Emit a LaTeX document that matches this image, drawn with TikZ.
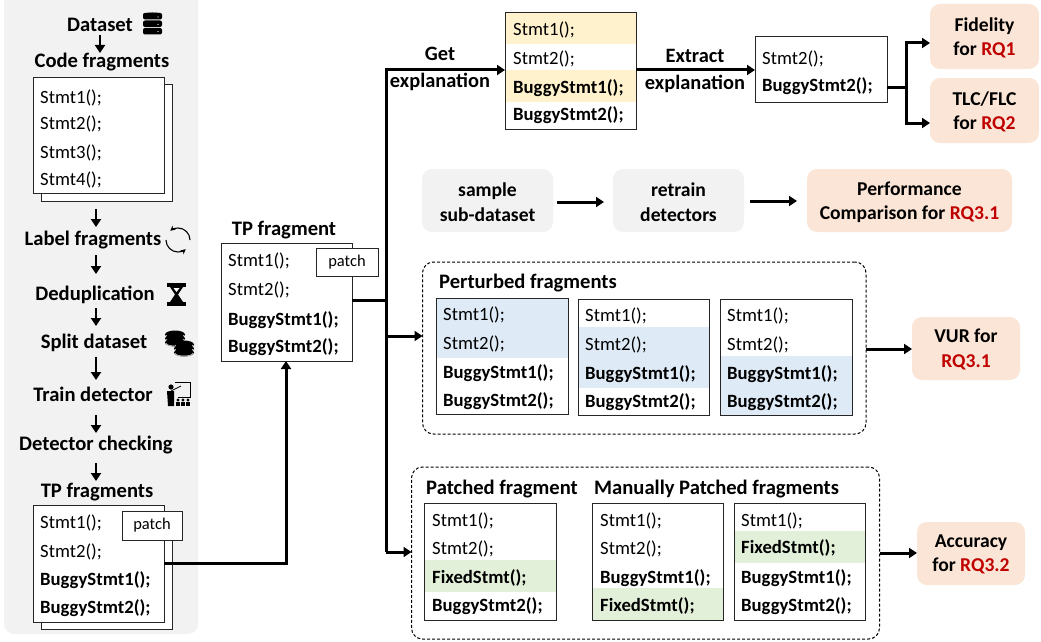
\documentclass[tikz,border=0pt]{standalone}
\usepackage{fontspec}
\setmainfont{Carlito}
\usetikzlibrary{arrows.meta}
\definecolor{panel}{HTML}{F2F2F2}
\definecolor{peach}{HTML}{FBE5D6}
\definecolor{hlyellow}{HTML}{FFF2CC}
\definecolor{hlblue}{HTML}{DEEAF6}
\definecolor{hlgreen}{HTML}{E2F0D9}
\definecolor{rqred}{HTML}{C00000}
\definecolor{frameline}{HTML}{262626}
\tikzset{
  pxnode/.style={inner sep=0pt,outer sep=0pt},
  frag/.style={pxnode,draw=frameline,line width=1pt,fill=white},
  graybox/.style={pxnode,fill=panel,rounded corners=10pt},
  rqbox/.style={pxnode,fill=peach,rounded corners=10pt},
  dashbox/.style={pxnode,draw=black,line width=1pt,dash pattern=on 3pt off 2pt,rounded corners=11pt},
  hl/.style={pxnode},
  rowtxt/.style={inner sep=0pt,anchor=base west,yshift=-0.7pt,font=\fontsize{18.7}{21}\selectfont},
  rowb/.style={rowtxt,font=\fontsize{18.7}{21}\selectfont\bfseries},
  head/.style={inner sep=0pt,anchor=base,yshift=-0.8pt,font=\fontsize{20.6}{24}\selectfont\bfseries,align=center},
  headl/.style={head,anchor=base west},
  rqtxt/.style={inner sep=0pt,anchor=center,font=\fontsize{19.6}{24.5}\selectfont\bfseries,align=center},
  plain2/.style={inner sep=0pt,anchor=center,font=\fontsize{20.4}{26.5}\selectfont\bfseries,align=center},
  flow/.style={line width=3pt,-{Triangle[length=8pt,width=10pt]}},
  flowline/.style={line width=3pt},
  thin flow/.style={line width=2.6pt,-{Triangle[length=8pt,width=10pt]}},
  patchlbl/.style={frag,font=\fontsize{16.5}{18}\selectfont},
}
\newcommand{\pxbox}[7][]{\node[#2,#1,minimum width={(#5-#3)*1pt},minimum height={(#6-#4)*1pt}] at ({(#3+#5)/2},{(#4+#6)/2}) #7;}
\newcommand{\RQ}[1]{\textcolor{rqred}{#1}}
\begin{document}
\begin{tikzpicture}[x=1pt,y=-1pt]
\useasboundingbox (0,0) rectangle (1041,642);
% left panel
\pxbox{graybox}{4}{-10}{198}{634}{(panel) {}}
% left flow texts
\node[head] (dataset) at (100,31) {Dataset};
\node[head] (codefrag) at (102,67) {Code fragments};
\node[head] (labelfrag) at (93,245) {Label fragments};
\node[head] (dedup) at (95,300) {Deduplication};
\node[head] (splitds) at (94,348) {Split dataset};
\node[head] (traindet) at (93,401) {Train detector};
\node[head] (detcheck) at (96,450) {Detector checking};
\node[head] (tpfrags) at (97,497) {TP fragments};
% flow arrows on the left
\coordinate (a1) at (100,35); \coordinate (a1e) at (100,53);
\coordinate (a2) at (96,209); \coordinate (a2e) at (96,227);
\coordinate (a3) at (96,255); \coordinate (a3e) at (96,274);
\coordinate (a4) at (96,308); \coordinate (a4e) at (96,326);
\coordinate (a5) at (96,357); \coordinate (a5e) at (96,380);
\coordinate (a6) at (96,415); \coordinate (a6e) at (96,433);
\coordinate (a7) at (96,463); \coordinate (a7e) at (96,481);
\foreach \s/\e in {a1/a1e,a2/a2e,a3/a3e,a4/a4e,a5/a5e,a6/a6e,a7/a7e}
  \draw[thin flow] (\s) -- (\e);
% code fragments stack
\pxbox{frag}{41}{84}{172}{201}{(codeback) {}}
\pxbox{frag}{33}{77}{164}{193}{(codefront) {}}
\node[rowtxt] (c1) at (40,102.5) {Stmt1();};
\node[rowtxt] (c2) at (40,128.5) {Stmt2();};
\node[rowtxt] (c3) at (40,157.5) {Stmt3();};
\node[rowtxt] (c4) at (40,184.5) {Stmt4();};
% TP fragments stack
\pxbox{frag}{41}{512}{172}{629}{(tpback) {}}
\pxbox{frag}{33}{505}{164}{622}{(tpfront) {}}
\node[rowtxt] (t1) at (40,527.5) {Stmt1();};
\node[rowtxt] (t2) at (40,556.5) {Stmt2();};
\node[rowb] (t3) at (40,585) {BuggyStmt1();};
\node[rowb] (t4) at (40,612.5) {BuggyStmt2();};
\pxbox{patchlbl}{122}{511}{182}{540}{(tppatch) {patch}}
% single TP fragment
\node[head] (tpfraglabel) at (284,235) {TP fragment};
\pxbox{frag}{221}{243}{352}{361}{(tpone) {}}
\node[rowtxt] (o1) at (228,265.5) {Stmt1();};
\node[rowtxt] (o2) at (228,294.5) {Stmt2();};
\node[rowb] (o3) at (228,325) {BuggyStmt1();};
\node[rowb] (o4) at (228,352) {BuggyStmt2();};
\pxbox{patchlbl}{316}{248}{378}{276}{(onepatch) {patch}}
% TP -> TP fragment
\coordinate (tpout) at (164,563);
\coordinate (tpbend) at (286,563);
\draw[flow] (tpout) -- (tpbend) -- (tpone.south -| tpbend);
% explanation box
\pxbox{frag}{505}{13}{636}{129}{(expl) {}}
\pxbox[fill=hlyellow]{hl}{505.5}{13.5}{635.5}{44}{(ey1) {}}
\pxbox[fill=hlyellow]{hl}{505.5}{70}{635.5}{102}{(ey2) {}}
\draw[frameline,line width=1pt] (expl.north west) rectangle (expl.south east);
\node[rowtxt] (e1) at (513,34.5) {Stmt1();};
\node[rowtxt] (e2) at (513,63.5) {Stmt2();};
\node[rowb] (e3) at (513,93) {BuggyStmt1();};
\node[rowb] (e4) at (513,120) {BuggyStmt2();};
% extracted
\pxbox{frag}{755}{37}{887}{102}{(extr) {}}
\node[rowtxt] (x1) at (762,63.5) {Stmt2();};
\node[rowb] (x2) at (762,91) {BuggyStmt2();};
% RQ boxes
\pxbox{rqbox}{930}{4}{1039}{69}{(fid) {}}
\pxbox{rqbox}{930}{78}{1039}{143}{(tlc) {}}
\node[rqtxt] (fidt) at (984.5,38) {Fidelity\\for \RQ{RQ1}};
\node[rqtxt] (tlct) at (984.5,112) {TLC/FLC\\for \RQ{RQ2}};
\pxbox{graybox}{422}{169}{553}{232}{(samp) {}}
\pxbox{graybox}{613}{169}{744}{232}{(retr) {}}
\pxbox{rqbox}{807}{169}{1012}{232}{(perf) {}}
\node[rqtxt] (sampt) at (487.5,202) {sample\\sub-dataset};
\node[rqtxt] (retrt) at (678.5,202) {retrain\\detectors};
\node[rqtxt] (perft) at (909.5,202) {Performance\\Comparison for \RQ{RQ3.1}};
% connectors at top
\coordinate (bus) at (386,300);
\coordinate (bustop) at (386,70);
\coordinate (busmid) at (386,336);
\coordinate (busend) at (386,552);
\draw[flowline] (tpone.east |- bus) -- (bus);
\draw[flow] (busend) -- (bustop) -- (expl.west |- bustop);
\draw[flow] (expl.east |- bustop) -- (extr.west |- bustop);
\node[plain2] (getl) at (440,69) {Get\\explanation};
\node[plain2] (extl) at (695,71) {Extract\\explanation};
\coordinate (fork) at (906,87);
\coordinate (forkup) at (906,43);
\coordinate (forkdn) at (906,123);
\draw[flowline] (extr.east |- fork) -- (fork);
\draw[flow] (fork) -- (forkup) -- (fid.west |- forkup);
\draw[flow] (fork) -- (forkdn) -- (tlc.west |- forkdn);
\coordinate (sa) at (557,202); \coordinate (sb) at (604,202);
\coordinate (ra) at (750,201); \coordinate (rb) at (797,201);
\draw[flow] (sa) -- (sb);
\draw[flow] (ra) -- (rb);
% perturbed group
\pxbox{dashbox}{422.5}{262}{866}{434}{(pgroup) {}}
\draw[flow] (busmid) -- (pgroup.west |- busmid);
\node[headl] (ptitle) at (439,288) {Perturbed fragments};
\pxbox{frag}{436}{298}{568}{414}{(p1) {}}
\pxbox{frag}{578}{299}{709.5}{415}{(p2) {}}
\pxbox{frag}{720}{299}{852}{415}{(p3) {}}
\pxbox[fill=hlblue]{hl}{436.5}{298.5}{567.5}{358}{(pb1) {}}
\pxbox[fill=hlblue]{hl}{578.5}{327}{709}{388}{(pb2) {}}
\pxbox[fill=hlblue]{hl}{720.5}{356}{851.5}{414.5}{(pb3) {}}
\draw[frameline,line width=1pt] (p1.north west) rectangle (p1.south east);
\draw[frameline,line width=1pt] (p2.north west) rectangle (p2.south east);
\draw[frameline,line width=1pt] (p3.north west) rectangle (p3.south east);
\foreach \n/\x/\dy in {1/443/0,2/585/1,3/727/1}{
  \node[rowtxt] (pa\n) at (\x,{320+\dy}) {Stmt1();};
  \node[rowtxt] (pc\n) at (\x,{348.5+\dy}) {Stmt2();};
  \node[rowb] (pd\n) at (\x,{378+\dy}) {BuggyStmt1();};
  \node[rowb] (pe\n) at (\x,{405.5+\dy}) {BuggyStmt2();};
}
\pxbox{rqbox}{912}{317}{1020}{380}{(vur) {}}
\node[rqtxt] (vurt) at (966,349.5) {VUR for\\\RQ{RQ3.1}};
\coordinate (vy) at (866,349);
\draw[flow] (pgroup.east |- vy) -- (vur.west |- vy);
% patched group
\pxbox{dashbox}{411.5}{467}{879.5}{639}{(mgroup) {}}
\draw[flow] (busend) -- (mgroup.west |- busend);
\node[headl] (mt1) at (426,494) {Patched fragment};
\node[headl] (mt2) at (594,494) {Manually Patched fragments};
\pxbox{frag}{424.5}{503}{556}{620}{(m1) {}}
\pxbox{frag}{592}{503}{723}{620}{(m2) {}}
\pxbox{frag}{734}{503}{865}{620}{(m3) {}}
\pxbox[fill=hlgreen]{hl}{425}{560}{555.5}{592}{(mg1) {}}
\pxbox[fill=hlgreen]{hl}{592.5}{588}{722.5}{619.5}{(mg2) {}}
\pxbox[fill=hlgreen]{hl}{734.5}{531}{864.5}{563}{(mg3) {}}
\draw[frameline,line width=1pt] (m1.north west) rectangle (m1.south east);
\draw[frameline,line width=1pt] (m2.north west) rectangle (m2.south east);
\draw[frameline,line width=1pt] (m3.north west) rectangle (m3.south east);
\node[rowtxt] (q1) at (432,525.5) {Stmt1();};
\node[rowtxt] (q2) at (432,553.5) {Stmt2();};
\node[rowb] (q3) at (432,583) {FixedStmt();};
\node[rowb] (q4) at (432,611) {BuggyStmt2();};
\node[rowtxt] (r1) at (600,525.5) {Stmt1();};
\node[rowtxt] (r2) at (600,553.5) {Stmt2();};
\node[rowb] (r3) at (600,583) {BuggyStmt1();};
\node[rowb] (r4) at (600,611) {FixedStmt();};
\node[rowtxt] (s1) at (741,525.5) {Stmt1();};
\node[rowb] (s2) at (741,553) {FixedStmt();};
\node[rowb] (s3) at (741,583) {BuggyStmt1();};
\node[rowb] (s4) at (741,611) {BuggyStmt2();};
\pxbox{rqbox}{917}{522}{1025}{585}{(acc) {}}
\node[rqtxt] (acct) at (971,554.5) {Accuracy\\for \RQ{RQ3.2}};
\coordinate (ay) at (879.5,553);
\draw[flow] (mgroup.east |- ay) -- (acc.west |- ay);
% icons: database
\foreach \yy in {13,20.5,28}
  \fill[black,rounded corners=2pt] (143,\yy) rectangle (162,{\yy+6.5});
\fill[black] (152.5,14.5) ellipse [x radius=9.5pt,y radius=2pt];
\foreach \yy in {17,24.5,31.5}
  \fill[white] (158,\yy) circle[radius=.7pt];
% icon: cycle
\draw[line width=1.1pt,-{Stealth[length=5pt,width=5pt]}] (166,240) arc[start angle=180,end angle=310,radius=12pt];
\draw[line width=1.1pt,-{Stealth[length=5pt,width=5pt]}] (190,240) arc[start angle=0,end angle=130,radius=12pt];
% icon: hourglass
\fill[black] (167,283) rectangle (186,287);
\fill[black] (167,302) rectangle (186,306);
\fill[black] (170,287) -- (183,287) -- (178,294.5) -- (183,302) -- (170,302) -- (175,294.5) -- cycle;
\fill[white] (173.5,288) -- (179.5,288) -- (176.5,292) -- cycle;
% icon: coins
\foreach \cx/\cy in {175/333,175/337,175/341,184/343,184/347,184/351}{
  \fill[black] (\cx,{\cy+1.5}) ellipse [x radius=10pt,y radius=4pt];
  \draw[white,line width=.5pt] (\cx-9,\cy+2) arc[start angle=180,end angle=360,x radius=9pt,y radius=3pt];
}
% icon: teacher
\draw[line width=.8pt] (175,382) -- (190,382) -- (190,397) -- (178,397);
\draw[line width=.8pt] (171,391) -- (181,386);
\fill[black] (171,387) circle[radius=2.6pt];
\fill[black] (167,391) -- (174,391) -- (174,406) -- (168,406) -- cycle;
\foreach \px in {178,183,188}{
  \fill[black] (\px,400) circle[radius=1.6pt];
  \fill[black] (\px-2,402) rectangle (\px+2,405.5);
}
\end{tikzpicture}
\end{document}
